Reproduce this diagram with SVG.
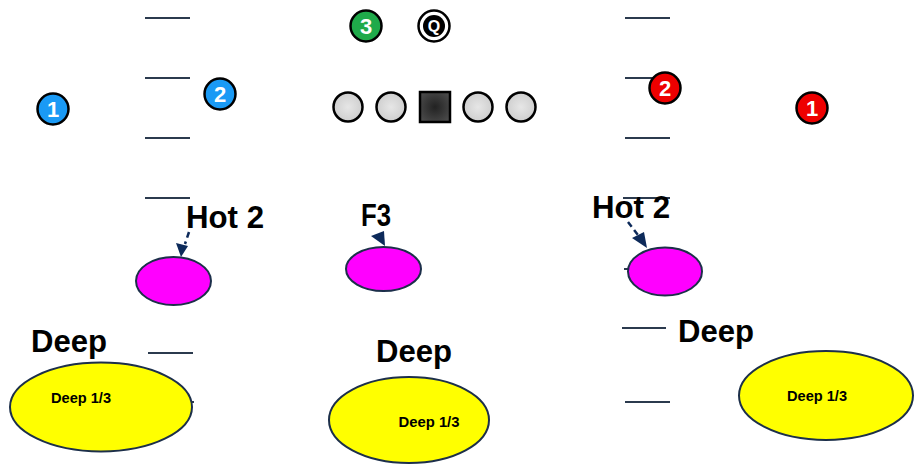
<svg xmlns="http://www.w3.org/2000/svg" width="914" height="465" viewBox="0 0 914 465">
  <style>
    .yard { stroke: #2b3a4e; stroke-width: 2; }
    .num { font-family: "Liberation Sans", Arial, sans-serif; font-weight: bold; font-size: 22px; fill: #ffffff; text-anchor: middle; }
    .player { stroke: #000000; stroke-width: 2.5; }
    .lineman { fill: url(#lineGrad); stroke: #000000; stroke-width: 2.5; }
    .zone { stroke: #1c2f4a; stroke-width: 2; }
    .label { font-family: "Liberation Sans", Arial, sans-serif; font-weight: bold; font-size: 31px; fill: #000000; }
    .zlabel { font-family: "Liberation Sans", Arial, sans-serif; font-weight: bold; font-size: 14.5px; fill: #000000; text-anchor: middle; }
    .route { stroke: #0d2a5a; stroke-width: 2.5; stroke-dasharray: 6 4; fill: none; }
    .head { fill: #0d2a5a; }
  </style>
  <defs>
    <radialGradient id="lineGrad" cx="0.5" cy="0.5" r="0.5">
      <stop offset="0" stop-color="#e6e6e6"/>
      <stop offset="1" stop-color="#cfcfcf"/>
    </radialGradient>
    <radialGradient id="centerGrad" cx="0.5" cy="0.5" r="0.6">
      <stop offset="0" stop-color="#222222"/>
      <stop offset="1" stop-color="#4a4a4a"/>
    </radialGradient>
  </defs>

  <rect width="914" height="465" fill="#ffffff"/>

  <!-- hash marks -->
  <g id="hashes">
    <line class="yard" x1="145" y1="18" x2="190" y2="18"/>
    <line class="yard" x1="145" y1="78" x2="190" y2="78"/>
    <line class="yard" x1="145" y1="138" x2="190" y2="138"/>
    <line class="yard" x1="145" y1="198" x2="190" y2="198"/>
    <line class="yard" x1="145" y1="265" x2="190" y2="265"/>
    <line class="yard" x1="148" y1="353" x2="193" y2="353"/>
    <line class="yard" x1="148" y1="402" x2="194" y2="402"/>
    <line class="yard" x1="625" y1="18" x2="670" y2="18"/>
    <line class="yard" x1="625" y1="78" x2="670" y2="78"/>
    <line class="yard" x1="625" y1="138" x2="670" y2="138"/>
    <line class="yard" x1="623" y1="198" x2="670" y2="198"/>
    <line class="yard" x1="624" y1="269" x2="670" y2="269"/>
    <line class="yard" x1="622" y1="328" x2="666" y2="328"/>
    <line class="yard" x1="625" y1="402" x2="670" y2="402"/>
  </g>

  <!-- offensive line -->
  <g id="line-left-tackle"><circle class="lineman" cx="348" cy="107" r="14.5"/></g>
  <g id="line-left-guard"><circle class="lineman" cx="391" cy="107" r="14.5"/></g>
  <g id="line-center"><rect x="420" y="92" width="30" height="30" fill="url(#centerGrad)" stroke="#000000" stroke-width="2.5"/></g>
  <g id="line-right-guard"><circle class="lineman" cx="478" cy="107" r="14.5"/></g>
  <g id="line-right-tackle"><circle class="lineman" cx="521" cy="107" r="14.5"/></g>

  <!-- backs and receivers -->
  <g id="qb">
    <circle cx="434" cy="26" r="15.5" fill="#ffffff" stroke="#000000" stroke-width="2.5"/>
    <circle cx="434" cy="26" r="11" fill="#000000"/>
    <text x="434" y="32" style="font-family:'Liberation Sans',Arial,sans-serif;font-weight:bold;font-size:16px;fill:#ffffff;text-anchor:middle">Q</text>
  </g>
  <g id="back-3">
    <circle class="player" cx="366" cy="26" r="15.5" fill="#1faa4a"/>
    <text class="num" x="366" y="34">3</text>
  </g>
  <g id="left-1">
    <circle class="player" cx="53" cy="109" r="15.5" fill="#1a9af5"/>
    <text class="num" x="53" y="117">1</text>
  </g>
  <g id="left-2">
    <circle class="player" cx="220" cy="94" r="15.5" fill="#1a9af5"/>
    <text class="num" x="220" y="102">2</text>
  </g>
  <g id="right-2">
    <circle class="player" cx="665" cy="88" r="15.5" fill="#ee0000"/>
    <text class="num" x="665" y="96">2</text>
  </g>
  <g id="right-1">
    <circle class="player" cx="812" cy="108" r="15.5" fill="#ee0000"/>
    <text class="num" x="812" y="116">1</text>
  </g>

  <!-- underneath zones -->
  <g id="hot-left">
    <ellipse class="zone" cx="173.5" cy="281" rx="37.5" ry="24" fill="#ff00ff"/>
    <text class="label" x="186" y="228" textLength="78" lengthAdjust="spacingAndGlyphs">Hot 2</text>
  </g>
  <g id="f3">
    <ellipse class="zone" cx="383.5" cy="269" rx="37.5" ry="22" fill="#ff00ff"/>
    <text class="label" x="361" y="226" textLength="30" lengthAdjust="spacingAndGlyphs">F3</text>
  </g>
  <g id="hot-right">
    <ellipse class="zone" cx="665" cy="271.5" rx="37" ry="24" fill="#ff00ff"/>
    <text class="label" x="592" y="218" textLength="78" lengthAdjust="spacingAndGlyphs">Hot 2</text>
  </g>

  <!-- deep thirds -->
  <g id="deep-left">
    <ellipse class="zone" cx="101" cy="407" rx="91" ry="44.5" fill="#ffff00"/>
    <text class="label" x="31" y="352" textLength="76" lengthAdjust="spacingAndGlyphs">Deep</text>
    <text class="zlabel" x="81" y="403" textLength="60" lengthAdjust="spacingAndGlyphs">Deep 1/3</text>
  </g>
  <g id="deep-middle">
    <ellipse class="zone" cx="409" cy="420" rx="80" ry="43" fill="#ffff00"/>
    <text class="label" x="376" y="362" textLength="76" lengthAdjust="spacingAndGlyphs">Deep</text>
    <text class="zlabel" x="429" y="427" textLength="61" lengthAdjust="spacingAndGlyphs">Deep 1/3</text>
  </g>
  <g id="deep-right">
    <ellipse class="zone" cx="826" cy="395.5" rx="87" ry="44.5" fill="#ffff00"/>
    <text class="label" x="678" y="342" textLength="76" lengthAdjust="spacingAndGlyphs">Deep</text>
    <text class="zlabel" x="817" y="401" textLength="60" lengthAdjust="spacingAndGlyphs">Deep 1/3</text>
  </g>

  <!-- routes -->
  <g id="connectors">
    <path class="route" d="M189 232 L185 244"/>
    <polygon class="head" points="181,257 176,243 188,246"/>
    <polygon class="head" points="385,246 371,236 384,231"/>
    <path class="route" d="M628 222 L638 235"/>
    <polygon class="head" points="647,248 632,238 644,232"/>
  </g>
</svg>
